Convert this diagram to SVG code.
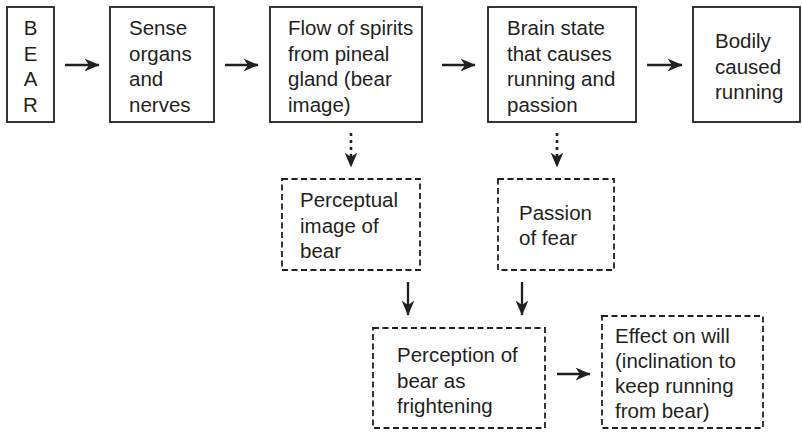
<svg xmlns="http://www.w3.org/2000/svg" width="802" height="432" viewBox="0 0 802 432">
<defs>
<style>
.box{fill:#fff;stroke:#231f20;stroke-width:1.8}
.dbox{fill:#fff;stroke:#231f20;stroke-width:1.8;stroke-dasharray:6 3.5}
text{font-family:"Liberation Sans",Arial,sans-serif;font-size:20.5px;fill:#231f20}
.mid{text-anchor:middle}
.arr{stroke:#231f20;stroke-width:2.3;fill:none;marker-end:url(#ah)}
.dot{stroke:#231f20;stroke-width:2.6;fill:none;stroke-dasharray:3 4;marker-end:url(#ah)}
</style>
<marker id="ah" markerUnits="userSpaceOnUse" markerWidth="15" markerHeight="14" viewBox="0 0 15 14" refX="14.5" refY="7" orient="auto">
<path d="M0,0.6 L15,7 L0,13.4 L4.5,7 z" fill="#231f20"/>
</marker>
</defs>
<rect width="802" height="432" fill="#fff"/>
<g id="bear">
<rect class="box" x="7" y="7" width="47" height="115"/>
<text class="mid" x="30.5" y="35">B</text>
<text class="mid" x="30.5" y="60.5">E</text>
<text class="mid" x="30.5" y="86">A</text>
<text class="mid" x="30.5" y="111.5">R</text>
</g>
<g id="sense">
<rect class="box" x="110" y="7" width="104" height="115"/>
<text x="129" y="35">Sense</text>
<text x="129" y="60.5">organs</text>
<text x="129" y="86">and</text>
<text x="129" y="111.5">nerves</text>
</g>
<g id="flow">
<rect class="box" x="270" y="7" width="152" height="115"/>
<text x="288" y="35">Flow of spirits</text>
<text x="288" y="60.5">from pineal</text>
<text x="288" y="86">gland (bear</text>
<text x="288" y="111.5">image)</text>
</g>
<g id="brain">
<rect class="box" x="488" y="7" width="148" height="115"/>
<text x="507" y="35">Brain state</text>
<text x="507" y="60.5">that causes</text>
<text x="507" y="86">running and</text>
<text x="507" y="111.5">passion</text>
</g>
<g id="bodily">
<rect class="box" x="693" y="7" width="107" height="115"/>
<text x="715" y="48">Bodily</text>
<text x="715" y="73.5">caused</text>
<text x="715" y="99">running</text>
</g>
<g id="perceptual">
<rect class="dbox" x="282" y="179" width="138" height="91"/>
<text x="300" y="207">Perceptual</text>
<text x="300" y="232.5">image of</text>
<text x="300" y="258">bear</text>
</g>
<g id="passion">
<rect class="dbox" x="498" y="179" width="116" height="91"/>
<text x="519" y="220">Passion</text>
<text x="519" y="245">of fear</text>
</g>
<g id="perception">
<rect class="dbox" x="373" y="328" width="172" height="100"/>
<text x="397" y="362">Perception of</text>
<text x="397" y="387.5">bear as</text>
<text x="397" y="413">frightening</text>
</g>
<g id="effect">
<rect class="dbox" x="602" y="316" width="161" height="112"/>
<text x="615" y="343">Effect on will</text>
<text x="615" y="368">(inclination to</text>
<text x="615" y="393">keep running</text>
<text x="615" y="418">from bear)</text>
</g>
<g id="connectors">
<line class="arr" x1="65" y1="65" x2="99" y2="65"/>
<line class="arr" x1="225" y1="65" x2="258" y2="65"/>
<line class="arr" x1="442" y1="65" x2="475" y2="65"/>
<line class="arr" x1="647" y1="65" x2="682" y2="65"/>
<line class="dot" x1="351" y1="133" x2="351" y2="167"/>
<line class="dot" x1="557" y1="133" x2="557" y2="167"/>
<line class="arr" x1="408" y1="282" x2="408" y2="315"/>
<line class="arr" x1="522" y1="282" x2="522" y2="315"/>
<line class="arr" x1="557" y1="374" x2="590" y2="374"/>
</g>
</svg>
